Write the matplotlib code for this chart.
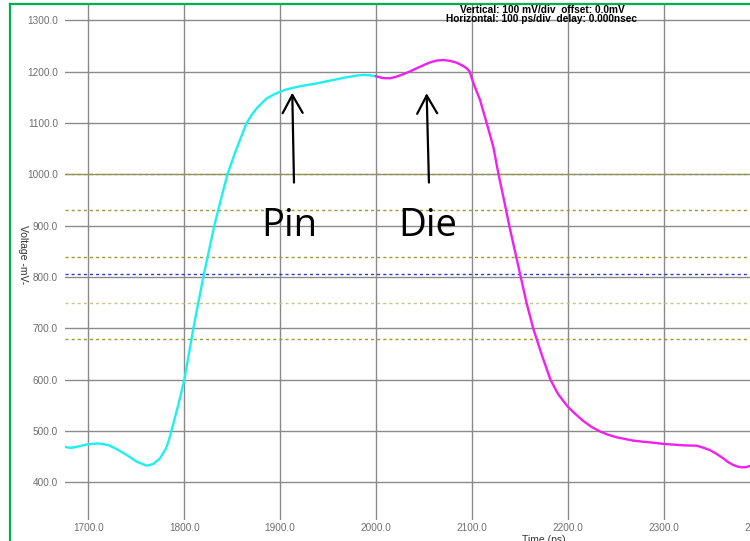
import matplotlib
matplotlib.use("Agg")
import matplotlib.pyplot as plt
from matplotlib.lines import Line2D

# ---- data ----
pin_t = [1675.5, 1680.7, 1687.7, 1698.1, 1710.2, 1720.7, 1729.4, 1739.9, 1750.3,
         1760.7, 1767.6, 1774.6, 1780.9, 1783.8, 1786.8, 1790.0, 1793.7, 1796.8,
         1800.0, 1809.4, 1814.6, 1819.8, 1825.5, 1831.3, 1838.0, 1845.0, 1849.5,
         1853.9, 1859.5, 1865.0, 1870.0, 1875.5, 1881.0, 1886.0, 1893.0, 1900.0,
         1906.8, 1913.7, 1925.0, 1938.0, 1948.0, 1959.0, 1966.0, 1973.0, 1980.0,
         1987.0, 1993.0, 2000.0]
pin_v = [469.3, 467.4, 469.3, 474.0, 476.0, 472.9, 465.0, 453.5, 440.5,
         432.6, 435.9, 447.0, 466.5, 482.0, 502.0, 525.0, 551.0, 575.0,
         600.0, 700.0, 750.0, 800.0, 850.0, 900.0, 950.0, 1000.0, 1024.0,
         1047.0, 1074.0, 1100.0, 1115.0, 1128.6, 1139.0, 1148.0, 1155.0, 1161.0,
         1165.5, 1168.7, 1173.0, 1177.0, 1181.0, 1185.0, 1188.0, 1190.0, 1192.5,
         1193.5, 1193.0, 1191.0]

die_t = [2000.0, 2007.0, 2014.5, 2021.0, 2028.5, 2035.5, 2042.4, 2049.5, 2056.3,
         2063.0, 2070.2, 2077.0, 2084.0, 2090.0, 2094.6, 2097.7, 2100.4, 2104.0,
         2108.5, 2115.4, 2122.3, 2127.8, 2133.5, 2139.0, 2145.0, 2151.0, 2157.0,
         2164.0, 2173.0, 2182.0, 2190.0, 2200.0, 2207.0, 2216.0, 2225.0, 2233.5,
         2242.0, 2251.0, 2268.4, 2289.0, 2300.4, 2320.6, 2334.5, 2341.0, 2348.4,
         2355.0, 2362.3, 2367.0, 2372.7, 2377.0, 2381.5, 2386.0, 2390.0]
die_v = [1191.0, 1187.5, 1187.0, 1190.0, 1195.0, 1200.5, 1206.5, 1212.5, 1218.0,
         1221.5, 1222.7, 1221.0, 1217.5, 1212.0, 1206.5, 1200.0, 1184.0, 1166.0,
         1145.0, 1100.0, 1054.0, 1000.0, 950.0, 900.0, 850.0, 800.0, 750.0,
         700.0, 648.0, 600.0, 572.0, 547.6, 535.0, 520.0, 508.0, 499.5,
         493.0, 488.0, 481.4, 477.4, 475.0, 472.3, 471.6, 468.0, 463.0,
         456.0, 447.0, 440.0, 434.0, 431.0, 429.5, 430.0, 432.0]

x_ticks = [1700, 1800, 1900, 2000, 2100, 2200, 2300, 2400]
y_ticks = [400, 500, 600, 700, 800, 900, 1000, 1100, 1200, 1300]
olive_levels = [1000, 930, 840, 680]
light_olive_levels = [750]
blue_levels = [805]

header1 = "Vertical: 100 mV/div  offset: 0.0mV"
header2 = "Horizontal: 100 ps/div  delay: 0.000nsec"
x_label = "Time (ps)"
y_label = "Voltage -mV-"

sans = ['Liberation Sans', 'DejaVu Sans']

W, H = 750, 541
fig = plt.figure(figsize=(W / 100, H / 100), dpi=100)
fig.patch.set_facecolor('white')

# axes geometry in pixels
left_px, right_px, top_px, bottom_px = 65, 778.6, 4, 520
ax = fig.add_axes([left_px / W, 1 - bottom_px / H, (right_px - left_px) / W,
                   (bottom_px - top_px) / H])
ax.set_xlim(1675.5, 2420)
ax.set_ylim(326.9, 1331.7)
for s in ax.spines.values():
    s.set_visible(False)

ax.set_xticks(x_ticks)
ax.set_xticklabels([f"{v:.1f}" for v in x_ticks])
ax.set_yticks(y_ticks)
ax.set_yticklabels([f"{v:.1f}" for v in y_ticks])
ax.tick_params(axis='both', length=0, labelsize=7.2, colors='#6e6e6e')
ax.tick_params(axis='y', pad=5)
ax.tick_params(axis='x', pad=2.5)
for lab in ax.get_xticklabels() + ax.get_yticklabels():
    lab.set_family(sans)

ax.grid(True, color='#8a8a8a', lw=1.0)
ax.set_axisbelow(True)

for lv in olive_levels:
    ax.axhline(lv, color='#9a9a30', lw=1.0, dashes=(2.2, 2.2), zorder=2)
for lv in light_olive_levels:
    ax.axhline(lv, color='#c4c48e', lw=1.0, dashes=(2.2, 2.2), zorder=2)
for lv in blue_levels:
    ax.axhline(lv, color='#3535d8', lw=1.0, dashes=(2.2, 2.2), zorder=2)

ax.plot(pin_t, pin_v, color='#1ef0f0', lw=1.7, zorder=3, solid_joinstyle='round')
ax.plot(die_t, die_v, color='#f020f0', lw=1.7, zorder=3, solid_joinstyle='round')

# annotations
arrow_style = dict(arrowstyle='->,head_length=0.65,head_width=0.36',
                   color='black', lw=1.6, mutation_scale=20,
                   shrinkA=0, shrinkB=0)
ax.annotate('', xy=(1912.6, 1159), xytext=(1914.4, 984), arrowprops=arrow_style)
ax.annotate('', xy=(2052.8, 1158), xytext=(2055.2, 984), arrowprops=arrow_style)
ax.text(1880.7, 880, 'Pin', fontsize=27.5, family=['Open Sans', 'DejaVu Sans'],
        ha='left', va='baseline', color='black', zorder=5)
ax.text(2023.2, 880, 'Die', fontsize=27.5, family=['Open Sans', 'DejaVu Sans'],
        ha='left', va='baseline', color='black', zorder=5)

# header text
fig.text(542 / W, 1 - 9.7 / H, header1, fontsize=7.3, fontweight='bold',
         family=sans, ha='center', va='center', color='black')
fig.text(541.5 / W, 1 - 19.5 / H, header2, fontsize=7.3, fontweight='bold',
         family=sans, ha='center', va='center', color='black')

# axis labels
fig.text(544 / W, 1 - 540 / H, x_label, fontsize=7.5, family=sans,
         ha='center', va='center', color='#333333')
fig.text(23 / W, 1 - 255 / H, y_label, fontsize=7.5, family=sans,
         rotation=270, ha='center', va='center', color='#333333')

# green frame
fig.add_artist(Line2D([9.5 / W, 9.5 / W], [-0.1, 1 - 4 / H], color='#00b050', lw=1.6))
fig.add_artist(Line2D([9.5 / W, 1.1], [1 - 4 / H, 1 - 4 / H], color='#00b050', lw=1.6))

fig.savefig('out.png', dpi=100)
